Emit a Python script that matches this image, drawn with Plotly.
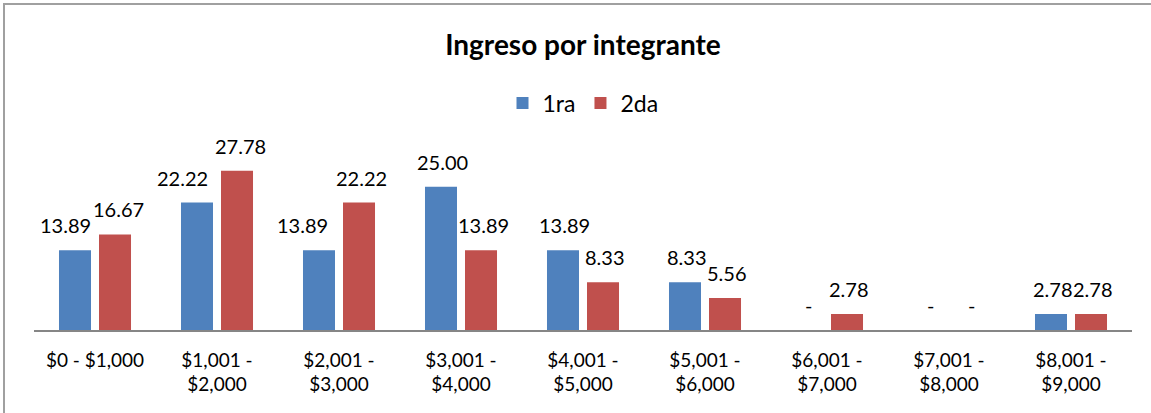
import plotly.graph_objects as go

categories = ["$0 - $1,000", "$1,001 -<br>$2,000", "$2,001 -<br>$3,000", "$3,001 -<br>$4,000",
              "$4,001 -<br>$5,000", "$5,001 -<br>$6,000", "$6,001 -<br>$7,000",
              "$7,001 -<br>$8,000", "$8,001 -<br>$9,000"]
primera = [13.89, 22.22, 13.89, 25.00, 13.89, 8.33, 0, 0, 2.78]
segunda = [16.67, 27.78, 22.22, 13.89, 8.33, 5.56, 2.78, 0, 2.78]
series_names = ["1ra", "2da"]
colors = ["#4F81BD", "#C0504D"]

# manual horizontal nudges (px) of the data labels, as placed in the original
label_nudge_1ra = [-9, -14, -16, 2, 2, 2, 2, 2, 2]
label_nudge_2da = [3, 3, 2, 2, 2, 2, 2, 2, 2]

W, H = 1151, 413
L, R, T, B = 34, 19, 158, 83

fig = go.Figure()
for name, vals, col in zip(series_names, [primera, segunda], colors):
    fig.add_trace(go.Bar(x=list(range(len(categories))), y=vals, name=name,
                         marker=dict(color=col, line=dict(width=0)),
                         hoverinfo="skip"))

def fmt(v):
    return "-" if v == 0 else f"{v:.2f}"

annotations = []
offsets = [-0.164, 0.164]
for vals, off, nudges in zip([primera, segunda], offsets, [label_nudge_1ra, label_nudge_2da]):
    for i, v in enumerate(vals):
        annotations.append(dict(x=i + off, y=v, xref="x", yref="y", text=fmt(v),
                                showarrow=False, yanchor="bottom", yshift=11, xshift=nudges[i],
                                font=dict(family="Lato", size=20, color="#000")))

fig.update_layout(
    width=W, height=H,
    margin=dict(l=L, r=R, t=T, b=B, autoexpand=False),
    paper_bgcolor="white", plot_bgcolor="white",
    barmode="group", bargap=0.344, bargroupgap=0.2,
    title=dict(text="<b>Ingreso por integrante</b>", xref="paper", x=0.5, xanchor="center",
               y=1 - 45 / H, yanchor="middle",
               font=dict(family="Lato", size=28, color="#000")),
    legend=dict(orientation="h", x=0.5, xanchor="center", y=(330 - 103) / (H - T - B),
                yanchor="middle", font=dict(family="Lato", size=23, color="#000"),
                itemwidth=30, traceorder="normal"),
    annotations=annotations,
    xaxis=dict(tickmode="array", tickvals=list(range(len(categories))), ticktext=categories,
               range=[-0.5, len(categories) - 0.5], automargin=False,
               showline=True, linecolor="#868686", linewidth=1.5,
               ticks="outside", ticklen=12, tickcolor="rgba(0,0,0,0)",
               showgrid=False, zeroline=False,
               tickfont=dict(family="Lato", size=19, color="#000")),
    yaxis=dict(range=[0, 30], visible=False, showgrid=False, zeroline=False, automargin=False),
    shapes=[dict(type="rect", xref="paper", yref="paper",
                 x0=(4 - L) / (W - L - R), x1=1.2,
                 y0=-1.0, y1=(330 - 4) / (H - T - B),
                 line=dict(color="#a0a0a0", width=2), fillcolor="rgba(0,0,0,0)", layer="above")],
)

fig.write_html("out.html", config={"displayModeBar": False},
               post_script="document.body.style.margin='0';")
